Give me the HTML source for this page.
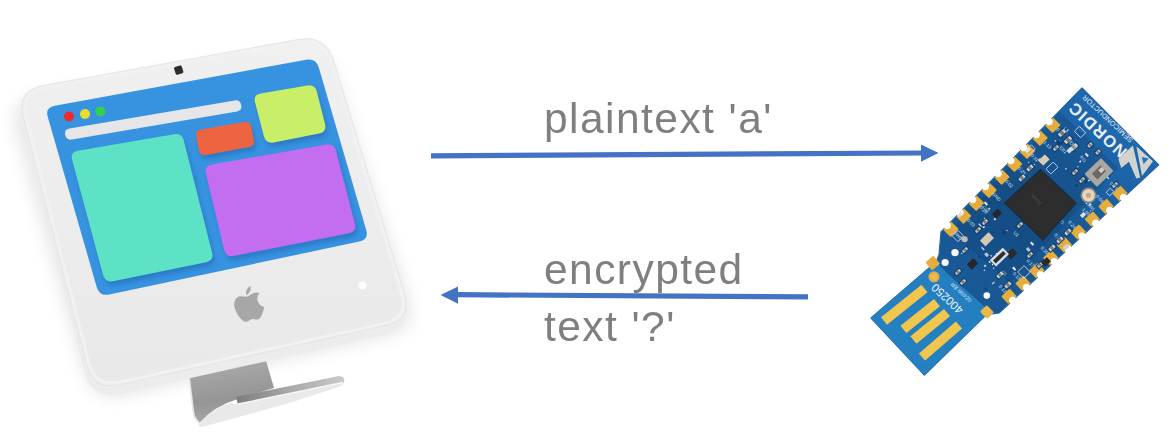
<!DOCTYPE html>
<html><head><meta charset="utf-8"><style>
html,body{margin:0;padding:0;background:#fff;}
#w{position:relative;width:1175px;height:447px;overflow:hidden;background:#fff;}
svg{position:absolute;left:0;top:0;}
.t{position:absolute;font-family:"Liberation Sans",sans-serif;font-size:42.5px;letter-spacing:1.45px;will-change:transform;color:#7f7f7f;white-space:nowrap;line-height:1;}
</style></head><body><div id="w">
<svg width="1175" height="447" viewBox="0 0 1175 447"><defs>
<filter id="blur8" x="-20%" y="-20%" width="140%" height="140%"><feGaussianBlur stdDeviation="8"/></filter>
<filter id="blur2" x="-20%" y="-20%" width="140%" height="140%"><feGaussianBlur stdDeviation="2"/></filter>
<linearGradient id="frameg" x1="0" y1="0" x2="0" y2="1"><stop offset="0" stop-color="#f0f0f0"/><stop offset="1" stop-color="#e9e9e9"/></linearGradient>
<linearGradient id="neckg" x1="0" y1="0" x2="0.2" y2="1"><stop offset="0" stop-color="#b0b0b0"/><stop offset="0.7" stop-color="#959595"/><stop offset="1" stop-color="#a8a8a8"/></linearGradient>
<linearGradient id="lipg" x1="0" y1="0" x2="1" y2="0"><stop offset="0" stop-color="#7d7d7d"/><stop offset="0.5" stop-color="#a9a9a9"/><stop offset="1" stop-color="#c9c9c9"/></linearGradient>
<linearGradient id="pcbg" x1="1" y1="0" x2="0" y2="1"><stop offset="0" stop-color="#2272bd"/><stop offset="0.45" stop-color="#17548f"/><stop offset="1" stop-color="#1b5f9f"/></linearGradient>
</defs>
<path d="M15.3,132.7 Q6.0,100.0 39.5,94.1 L292.5,49.9 Q326.0,44.0 336.6,76.3 L409.4,297.7 Q420.0,330.0 386.8,337.5 L125.2,396.5 Q92.0,404.0 82.7,371.3 Z" fill="#000" opacity="0.085" filter="url(#blur8)"/>
<path d="M188.5,372 L265,357 L274,388 L238,399 Q214,406 199.5,423 Q193,419 193,412 Z" fill="url(#neckg)"/>
<path d="M189,376 L193.5,412 Q194,418 199.5,423" fill="none" stroke="#e6e6e6" stroke-width="1.6"/>
<path d="M199.5,423 Q214,407 236,401 L341,379 Q346,382 341.5,386 L289.6,403 L202,427 Q197,427 199.5,423 Z" fill="#e9e9e9"/>
<path d="M236,397 L339,376 Q345.5,376.5 344,382.5 L238,404 Z" fill="url(#lipg)"/>
<path d="M238,404 L343,382.5" stroke="#f7f7f7" stroke-width="1.3"/>
<circle cx="234.5" cy="402.5" r="2" fill="#ffffff"/>
<path d="M21.9,128.1 Q14.5,99.0 44.0,93.7 L295.0,48.3 Q324.5,43.0 333.2,71.7 L402.8,300.3 Q411.5,329.0 382.2,335.5 L120.8,393.5 Q91.5,400.0 84.1,370.9 Z" fill="#ececec"/>
<path d="M22.9,117.1 Q16.0,90.0 43.6,85.0 L298.4,39.0 Q326.0,34.0 334.1,60.8 L404.9,293.2 Q413.0,320.0 385.7,326.1 L120.3,384.9 Q93.0,391.0 86.1,363.9 Z" fill="#e4e4e4"/>
<path d="M23.9,117.0 Q17.2,90.8 43.8,86.0 L298.7,39.9 Q325.3,35.1 333.2,61.0 L403.9,293.4 Q411.7,319.3 385.4,325.1 L120.1,384.0 Q93.7,389.8 87.0,363.7 Z" fill="#f1f1f1"/>
<path d="M27.5,116.8 Q21.6,93.6 45.2,89.3 L299.2,43.4 Q322.9,39.1 329.8,62.1 L400.3,293.7 Q407.3,316.7 383.9,321.9 L119.7,380.5 Q96.3,385.7 90.3,362.4 Z" fill="url(#frameg)"/>
<path d="M47.8,117.1 Q45.0,107.5 54.8,105.7 L306.2,59.8 Q316.0,58.0 318.8,67.6 L366.2,229.9 Q369.0,239.5 359.2,241.6 L109.3,294.4 Q99.5,296.5 96.7,286.9 Z" fill="#3792e0"/>
<path d="M65.2,134.9 Q64.0,129.5 69.4,128.6 L234.6,100.4 Q240.0,99.5 241.2,104.9 L241.3,105.1 Q242.5,110.5 237.1,111.4 L71.9,139.6 Q66.5,140.5 65.3,135.1 Z" fill="#e6e6e8"/>
<circle cx="69" cy="116.5" r="5" fill="#ef2a2c"/>
<circle cx="85" cy="114" r="5" fill="#e9dc2a"/>
<circle cx="100.5" cy="111.5" r="5" fill="#34d24c"/>
<path d="M74.1,163.7 Q72.0,156.0 79.9,154.7 L176.1,138.3 Q184.0,137.0 185.9,144.8 L214.1,256.8 Q216.0,264.6 208.2,266.2 L115.0,285.2 Q107.2,286.8 105.1,279.1 Z" fill="#1d5fa8" opacity="0.45" filter="url(#blur2)"/>
<path d="M72.1,159.7 Q70.0,152.0 77.9,150.7 L174.1,134.3 Q182.0,133.0 183.9,140.8 L212.1,252.8 Q214.0,260.6 206.2,262.2 L113.0,281.2 Q105.2,282.8 103.1,275.1 Z" fill="#5de2c6"/>
<path d="M198.2,140.4 Q197.0,134.5 202.9,133.5 L246.1,126.0 Q252.0,125.0 253.2,130.9 L255.8,144.1 Q257.0,150.0 251.1,151.1 L207.9,158.9 Q202.0,160.0 200.8,154.1 Z" fill="#1d5fa8" opacity="0.45" filter="url(#blur2)"/>
<path d="M196.2,136.4 Q195.0,130.5 200.9,129.5 L244.1,122.0 Q250.0,121.0 251.2,126.9 L253.8,140.1 Q255.0,146.0 249.1,147.1 L205.9,154.9 Q200.0,156.0 198.8,150.1 Z" fill="#ef6440"/>
<path d="M257.1,106.7 Q255.0,99.0 262.9,97.6 L309.1,89.4 Q317.0,88.0 318.9,95.8 L327.1,128.2 Q329.0,136.0 321.2,137.5 L275.8,146.5 Q268.0,148.0 265.9,140.3 Z" fill="#1d5fa8" opacity="0.45" filter="url(#blur2)"/>
<path d="M255.1,102.7 Q253.0,95.0 260.9,93.6 L307.1,85.4 Q315.0,84.0 316.9,91.8 L325.1,124.2 Q327.0,132.0 319.2,133.5 L273.8,142.5 Q266.0,144.0 263.9,136.3 Z" fill="#c9ef68"/>
<path d="M207.9,177.8 Q206.0,170.0 213.9,168.6 L328.1,148.4 Q336.0,147.0 338.0,154.7 L357.0,227.9 Q359.0,235.6 351.2,237.2 L235.8,260.0 Q228.0,261.6 226.1,253.8 Z" fill="#1d5fa8" opacity="0.45" filter="url(#blur2)"/>
<path d="M205.9,173.8 Q204.0,166.0 211.9,164.6 L326.1,144.4 Q334.0,143.0 336.0,150.7 L355.0,223.9 Q357.0,231.6 349.2,233.2 L233.8,256.0 Q226.0,257.6 224.1,249.8 Z" fill="#c36df0"/>
<rect x="174.7" y="66.1" width="8" height="8" rx="1.5" fill="#2e2e2e" transform="rotate(-18 178.7 70.1)"/>
<g transform="translate(234.5,287.5) rotate(-12 14 18) scale(0.29,0.30)" fill="#a7a7a7"><path d="M50,30 C40,30 35,24 24,24 C10,24 0,38 0,56 C0,82 18,112 30,112 C38,112 42,107 50,107 C58,107 62,112 70,112 C82,112 94,90 100,76 C88,70 82,60 82,50 C82,40 88,32 94,28 C86,20 76,24 70,24 C62,24 58,30 50,30 Z"/><path d="M48,24 C48,12 56,2 68,-2 C70,10 62,22 48,24 Z"/></g>
<circle cx="362.5" cy="285.5" r="4.2" fill="#fbfbfb"/>
<path d="M431,153.2 L922,150.4 L922,155.6 L431,158.4 Z" fill="#4472c4"/>
<path d="M921,144.6 L938.5,153 L921,161.7 Z" fill="#4472c4"/>
<path d="M808,294.3 L457,292.1 L457,297.3 L808,299.5 Z" fill="#4472c4"/>
<path d="M458,286.5 L440.5,294.9 L458,303.8 Z" fill="#4472c4"/>
<polygon points="1082,88 1158.7,164.8 999,313 986,315 924.4,375 871,318 936,262 939,255 941,232" fill="url(#pcbg)" stroke="#1d63a6" stroke-width="1.2" stroke-linejoin="round"/>
<polygon points="986,315 924.4,375 871,318 936,262 950,276 984,306" fill="#2a94d6" opacity="0.65"/>
<polygon points="1060,112 1118,168 1010,282 950,232" fill="#123f6e" opacity="0.3"/>
<rect x="1047.2" y="120.0" width="11.5" height="10.6" rx="1" fill="#e6ac3c" transform="rotate(134.4 1052.9 125.3)" />
<circle cx="1049.1" cy="121.6" r="3.6" fill="#ffffff"/>
<rect x="1034.4" y="133.0" width="11.5" height="10.6" rx="1" fill="#e6ac3c" transform="rotate(134.4 1040.2 138.3)" />
<circle cx="1036.4" cy="134.6" r="3.6" fill="#ffffff"/>
<rect x="1021.7" y="146.0" width="11.5" height="10.6" rx="1" fill="#e6ac3c" transform="rotate(134.4 1027.4 151.3)" />
<circle cx="1023.7" cy="147.6" r="3.6" fill="#ffffff"/>
<rect x="1009.0" y="159.0" width="11.5" height="10.6" rx="1" fill="#e6ac3c" transform="rotate(134.4 1014.7 164.3)" />
<circle cx="1010.9" cy="160.6" r="3.6" fill="#ffffff"/>
<rect x="996.2" y="172.0" width="11.5" height="10.6" rx="1" fill="#e6ac3c" transform="rotate(134.4 1002.0 177.3)" />
<circle cx="998.2" cy="173.6" r="3.6" fill="#ffffff"/>
<rect x="983.5" y="185.0" width="11.5" height="10.6" rx="1" fill="#e6ac3c" transform="rotate(134.4 989.2 190.3)" />
<circle cx="985.5" cy="186.6" r="3.6" fill="#ffffff"/>
<rect x="970.8" y="198.0" width="11.5" height="10.6" rx="1" fill="#e6ac3c" transform="rotate(134.4 976.5 203.3)" />
<circle cx="972.7" cy="199.6" r="3.6" fill="#ffffff"/>
<rect x="958.0" y="211.0" width="11.5" height="10.6" rx="1" fill="#e6ac3c" transform="rotate(134.4 963.8 216.3)" />
<circle cx="960.0" cy="212.6" r="3.6" fill="#ffffff"/>
<rect x="945.3" y="224.0" width="11.5" height="10.6" rx="1" fill="#e6ac3c" transform="rotate(134.4 951.0 229.3)" />
<circle cx="947.3" cy="225.6" r="3.6" fill="#ffffff"/>
<rect x="1114.2" y="188.2" width="11.5" height="10.6" rx="1" fill="#e6ac3c" transform="rotate(137.1 1120.0 193.5)" />
<circle cx="1123.5" cy="197.5" r="3.6" fill="#ffffff"/>
<rect x="1100.4" y="201.1" width="11.5" height="10.6" rx="1" fill="#e6ac3c" transform="rotate(137.1 1106.1 206.4)" />
<circle cx="1109.7" cy="210.3" r="3.6" fill="#ffffff"/>
<rect x="1086.5" y="213.9" width="11.5" height="10.6" rx="1" fill="#e6ac3c" transform="rotate(137.1 1092.3 219.2)" />
<circle cx="1095.8" cy="223.2" r="3.6" fill="#ffffff"/>
<rect x="1072.7" y="226.8" width="11.5" height="10.6" rx="1" fill="#e6ac3c" transform="rotate(137.1 1078.4 232.1)" />
<circle cx="1082.0" cy="236.0" r="3.6" fill="#ffffff"/>
<rect x="1058.8" y="239.6" width="11.5" height="10.6" rx="1" fill="#e6ac3c" transform="rotate(137.1 1064.5 244.9)" />
<circle cx="1068.1" cy="248.9" r="3.6" fill="#ffffff"/>
<rect x="1044.9" y="252.5" width="11.5" height="10.6" rx="1" fill="#e6ac3c" transform="rotate(137.1 1050.7 257.8)" />
<circle cx="1054.2" cy="261.7" r="3.6" fill="#ffffff"/>
<rect x="1031.1" y="265.3" width="11.5" height="10.6" rx="1" fill="#e6ac3c" transform="rotate(137.1 1036.8 270.6)" />
<circle cx="1040.4" cy="274.6" r="3.6" fill="#ffffff"/>
<rect x="1017.2" y="278.2" width="11.5" height="10.6" rx="1" fill="#e6ac3c" transform="rotate(137.1 1023.0 283.5)" />
<circle cx="1026.5" cy="287.4" r="3.6" fill="#ffffff"/>
<rect x="1003.4" y="291.1" width="11.5" height="10.6" rx="1" fill="#e6ac3c" transform="rotate(137.1 1009.1 296.4)" />
<circle cx="1012.7" cy="300.3" r="3.6" fill="#ffffff"/>
<rect x="927.5" y="257.8" width="10.5" height="10.5" rx="1" fill="#e6ac3c" transform="rotate(-40 932.8 263.0)" />
<rect x="982.2" y="306.8" width="9.5" height="10.5" rx="1.5" fill="#eab84a" transform="rotate(-44 987.0 312.0)" />
<line x1="884" y1="321" x2="924.5" y2="288.5" stroke="#f0c64e" stroke-width="9.5"/>
<line x1="903.4" y1="329.4" x2="937" y2="302.6" stroke="#f0c64e" stroke-width="9.5"/>
<line x1="913.4" y1="340" x2="947" y2="312.6" stroke="#f0c64e" stroke-width="9.5"/>
<line x1="922" y1="357" x2="959" y2="325" stroke="#f0c64e" stroke-width="9.5"/>
<circle cx="934" cy="276.8" r="5.6" fill="#d8ad4c"/><circle cx="934" cy="276.8" r="3.6" fill="#f0b850"/>
<circle cx="945.1" cy="262.5" r="3.6" fill="#f6f8fa"/>
<circle cx="955" cy="252.6" r="3.7" fill="#f6f8fa"/>
<circle cx="986.8" cy="295.6" r="3.3" fill="#f6f8fa"/>
<rect x="995.7" y="196.9" width="1.2" height="1.0" rx="0" fill="#0f3f70" transform="rotate(-44 996.3 197.4)" />
<rect x="983.6" y="269.9" width="1.5" height="1.0" rx="0" fill="#e8eef4" transform="rotate(-44 984.4 270.4)" />
<rect x="1027.9" y="161.8" width="1.5" height="1.0" rx="0" fill="#b7c7d6" transform="rotate(-44 1028.6 162.3)" />
<rect x="1033.8" y="164.0" width="1.2" height="1.0" rx="0" fill="#e8eef4" transform="rotate(-44 1034.4 164.5)" />
<rect x="1013.2" y="266.7" width="2.0" height="4.0" rx="0" fill="#e8eef4" transform="rotate(-44 1014.2 268.7)" />
<rect x="982.1" y="246.7" width="1.5" height="4.0" rx="0" fill="#c9d6e2" transform="rotate(-44 982.8 248.7)" />
<rect x="984.1" y="264.8" width="2.0" height="2.0" rx="0" fill="#c9d6e2" transform="rotate(-44 985.1 265.8)" />
<rect x="1084.4" y="180.5" width="3.0" height="2.0" rx="0" fill="#0f3f70" transform="rotate(-44 1085.9 181.5)" />
<rect x="1026.8" y="247.5" width="3.0" height="4.0" rx="0" fill="#b7c7d6" transform="rotate(-44 1028.3 249.5)" />
<rect x="978.1" y="255.9" width="2.0" height="1.5" rx="0" fill="#0f3f70" transform="rotate(-44 979.1 256.6)" />
<rect x="979.5" y="223.2" width="1.2" height="4.0" rx="0" fill="#dfe7ee" transform="rotate(-44 980.1 225.2)" />
<rect x="989.0" y="202.0" width="2.0" height="2.0" rx="0" fill="#0f3f70" transform="rotate(-44 990.0 203.0)" />
<rect x="992.9" y="267.7" width="1.5" height="1.0" rx="0" fill="#e8eef4" transform="rotate(-44 993.6 268.2)" />
<rect x="992.0" y="263.8" width="1.2" height="1.5" rx="0" fill="#e8eef4" transform="rotate(-44 992.6 264.6)" />
<rect x="992.6" y="231.2" width="2.0" height="2.0" rx="0" fill="#0f3f70" transform="rotate(-44 993.6 232.2)" />
<rect x="985.1" y="252.7" width="3.0" height="4.0" rx="0" fill="#b7c7d6" transform="rotate(-44 986.6 254.7)" />
<rect x="993.2" y="197.6" width="2.0" height="2.0" rx="0" fill="#0f3f70" transform="rotate(-44 994.2 198.6)" />
<rect x="1068.8" y="145.0" width="1.2" height="2.0" rx="0" fill="#0f3f70" transform="rotate(-44 1069.4 146.0)" />
<rect x="1106.6" y="175.4" width="1.5" height="4.0" rx="0" fill="#dfe7ee" transform="rotate(-44 1107.3 177.4)" />
<rect x="1060.1" y="142.1" width="3.0" height="2.0" rx="0" fill="#0f3f70" transform="rotate(-44 1061.6 143.1)" />
<rect x="1085.8" y="152.9" width="2.0" height="4.0" rx="0" fill="#dfe7ee" transform="rotate(-44 1086.8 154.9)" />
<rect x="1088.6" y="204.0" width="3.0" height="1.5" rx="0" fill="#e8eef4" transform="rotate(-44 1090.1 204.7)" />
<rect x="1075.0" y="142.2" width="3.0" height="4.0" rx="0" fill="#0f3f70" transform="rotate(-44 1076.5 144.2)" />
<rect x="1054.8" y="140.1" width="1.2" height="1.5" rx="0" fill="#dfe7ee" transform="rotate(-44 1055.4 140.9)" />
<rect x="1074.9" y="184.4" width="3.0" height="2.0" rx="0" fill="#0f3f70" transform="rotate(-44 1076.4 185.4)" />
<rect x="995.8" y="253.1" width="1.2" height="1.0" rx="0" fill="#e8eef4" transform="rotate(-44 996.4 253.6)" />
<rect x="993.9" y="218.2" width="2.0" height="2.0" rx="0" fill="#dfe7ee" transform="rotate(-44 994.9 219.2)" />
<rect x="991.8" y="282.2" width="3.0" height="1.5" rx="0" fill="#b7c7d6" transform="rotate(-44 993.3 283.0)" />
<rect x="968.7" y="264.2" width="1.2" height="1.5" rx="0" fill="#dfe7ee" transform="rotate(-44 969.3 264.9)" />
<rect x="993.7" y="244.7" width="1.2" height="1.0" rx="0" fill="#0f3f70" transform="rotate(-44 994.3 245.2)" />
<rect x="988.8" y="260.9" width="1.5" height="2.0" rx="0" fill="#dfe7ee" transform="rotate(-44 989.6 261.9)" />
<rect x="1038.8" y="158.4" width="3.0" height="4.0" rx="0" fill="#c9d6e2" transform="rotate(-44 1040.3 160.4)" />
<rect x="1064.9" y="168.3" width="2.0" height="1.0" rx="0" fill="#dfe7ee" transform="rotate(-44 1065.9 168.8)" />
<rect x="1088.1" y="179.6" width="2.0" height="1.5" rx="0" fill="#dfe7ee" transform="rotate(-44 1089.1 180.4)" />
<rect x="1031.1" y="241.7" width="2.0" height="4.0" rx="0" fill="#e8eef4" transform="rotate(-44 1032.1 243.7)" />
<rect x="1069.0" y="139.8" width="3.0" height="2.0" rx="0" fill="#dfe7ee" transform="rotate(-44 1070.5 140.8)" />
<rect x="1066.1" y="130.6" width="2.0" height="1.0" rx="0" fill="#e8eef4" transform="rotate(-44 1067.1 131.1)" />
<rect x="1085.7" y="202.9" width="1.5" height="1.0" rx="0" fill="#e8eef4" transform="rotate(-44 1086.5 203.4)" />
<rect x="984.9" y="201.6" width="2.0" height="4.0" rx="0" fill="#e8eef4" transform="rotate(-44 985.9 203.6)" />
<rect x="990.5" y="255.0" width="1.2" height="1.5" rx="0" fill="#dfe7ee" transform="rotate(-44 991.1 255.8)" />
<rect x="988.3" y="208.0" width="2.0" height="1.5" rx="0" fill="#c9d6e2" transform="rotate(-44 989.3 208.8)" />
<rect x="986.4" y="233.7" width="2.0" height="1.0" rx="0" fill="#e8eef4" transform="rotate(-44 987.4 234.2)" />
<rect x="985.1" y="287.1" width="1.5" height="4.0" rx="0" fill="#0f3f70" transform="rotate(-44 985.9 289.1)" />
<rect x="1002.1" y="230.4" width="3.0" height="4.0" rx="0" fill="#0f3f70" transform="rotate(-44 1003.6 232.4)" />
<rect x="984.8" y="217.4" width="1.5" height="4.0" rx="0" fill="#dfe7ee" transform="rotate(-44 985.6 219.4)" />
<rect x="1089.8" y="210.4" width="1.5" height="1.0" rx="0" fill="#b7c7d6" transform="rotate(-44 1090.5 210.9)" />
<rect x="1002.0" y="286.9" width="2.0" height="1.5" rx="0" fill="#0f3f70" transform="rotate(-44 1003.0 287.7)" />
<rect x="982.7" y="225.9" width="2.0" height="2.0" rx="0" fill="#e8eef4" transform="rotate(-44 983.7 226.9)" />
<rect x="961.3" y="252.6" width="1.2" height="1.5" rx="0" fill="#dfe7ee" transform="rotate(-44 961.9 253.4)" />
<rect x="1082.5" y="192.3" width="3.0" height="2.0" rx="0" fill="#0f3f70" transform="rotate(-44 1084.0 193.3)" />
<rect x="1077.2" y="166.3" width="1.5" height="1.0" rx="0" fill="#c9d6e2" transform="rotate(-44 1077.9 166.8)" />
<rect x="1075.2" y="169.8" width="1.2" height="1.5" rx="0" fill="#0f3f70" transform="rotate(-44 1075.8 170.5)" />
<rect x="1006.4" y="230.0" width="1.2" height="1.0" rx="0" fill="#e8eef4" transform="rotate(-44 1007.0 230.5)" />
<rect x="1079.2" y="160.8" width="2.0" height="1.5" rx="0" fill="#e8eef4" transform="rotate(-44 1080.2 161.5)" />
<rect x="1057.0" y="141.0" width="3.0" height="4.0" rx="0" fill="#0f3f70" transform="rotate(-44 1058.5 143.0)" />
<text x="0" y="0" font-family="Liberation Sans" font-size="4.6" fill="#d8e2ec" transform="translate(1059.8,132.1) rotate(46)" text-anchor="middle" dominant-baseline="middle">0.15</text>
<text x="0" y="0" font-family="Liberation Sans" font-size="4.6" fill="#d8e2ec" transform="translate(1047.1,145.1) rotate(46)" text-anchor="middle" dominant-baseline="middle">1.13</text>
<text x="0" y="0" font-family="Liberation Sans" font-size="4.6" fill="#d8e2ec" transform="translate(1034.4,158.1) rotate(46)" text-anchor="middle" dominant-baseline="middle">0.31</text>
<text x="0" y="0" font-family="Liberation Sans" font-size="4.6" fill="#d8e2ec" transform="translate(1021.6,171.1) rotate(46)" text-anchor="middle" dominant-baseline="middle">0.29</text>
<text x="0" y="0" font-family="Liberation Sans" font-size="4.6" fill="#d8e2ec" transform="translate(1008.9,184.1) rotate(46)" text-anchor="middle" dominant-baseline="middle">0.02</text>
<text x="0" y="0" font-family="Liberation Sans" font-size="4.6" fill="#d8e2ec" transform="translate(996.2,197.1) rotate(46)" text-anchor="middle" dominant-baseline="middle">GND</text>
<text x="0" y="0" font-family="Liberation Sans" font-size="4.6" fill="#d8e2ec" transform="translate(983.4,210.1) rotate(46)" text-anchor="middle" dominant-baseline="middle">0.28</text>
<text x="0" y="0" font-family="Liberation Sans" font-size="4.6" fill="#d8e2ec" transform="translate(970.7,223.1) rotate(46)" text-anchor="middle" dominant-baseline="middle">0.03</text>
<text x="0" y="0" font-family="Liberation Sans" font-size="4.6" fill="#d8e2ec" transform="translate(958.0,236.1) rotate(46)" text-anchor="middle" dominant-baseline="middle">SWD</text>
<text x="0" y="0" font-family="Liberation Sans" font-size="4.6" fill="#d8e2ec" transform="translate(1113.5,186.3) rotate(46)" text-anchor="middle" dominant-baseline="middle">0.10</text>
<text x="0" y="0" font-family="Liberation Sans" font-size="4.6" fill="#d8e2ec" transform="translate(1099.6,199.2) rotate(46)" text-anchor="middle" dominant-baseline="middle">0.09</text>
<text x="0" y="0" font-family="Liberation Sans" font-size="4.6" fill="#d8e2ec" transform="translate(1085.8,212.0) rotate(46)" text-anchor="middle" dominant-baseline="middle">1.00</text>
<text x="0" y="0" font-family="Liberation Sans" font-size="4.6" fill="#d8e2ec" transform="translate(1071.9,224.9) rotate(46)" text-anchor="middle" dominant-baseline="middle">0.24</text>
<text x="0" y="0" font-family="Liberation Sans" font-size="4.6" fill="#d8e2ec" transform="translate(1058.1,237.7) rotate(46)" text-anchor="middle" dominant-baseline="middle">0.22</text>
<text x="0" y="0" font-family="Liberation Sans" font-size="4.6" fill="#d8e2ec" transform="translate(1044.2,250.6) rotate(46)" text-anchor="middle" dominant-baseline="middle">0.20</text>
<text x="0" y="0" font-family="Liberation Sans" font-size="4.6" fill="#d8e2ec" transform="translate(1030.3,263.4) rotate(46)" text-anchor="middle" dominant-baseline="middle">0.17</text>
<text x="0" y="0" font-family="Liberation Sans" font-size="4.6" fill="#d8e2ec" transform="translate(1016.5,276.3) rotate(46)" text-anchor="middle" dominant-baseline="middle">0.13</text>
<text x="0" y="0" font-family="Liberation Sans" font-size="4.6" fill="#d8e2ec" transform="translate(1002.6,289.2) rotate(46)" text-anchor="middle" dominant-baseline="middle">0.12</text>
<rect x="1057.0" y="130.0" width="10.0" height="6.0" rx="0.5" fill="#0f3f70" transform="rotate(-44 1062.0 133.0)" />
<rect x="1058.0" y="131.0" width="8.0" height="4.0" rx="0.5" fill="#cfd3d6" transform="rotate(-44 1062.0 133.0)" />
<rect x="1060.2" y="131.0" width="3.6" height="4.0" rx="0" fill="#7d7a72" transform="rotate(-44 1062.0 133.0)" />
<rect x="1063.0" y="137.0" width="10.0" height="6.0" rx="0.5" fill="#0f3f70" transform="rotate(-44 1068.0 140.0)" />
<rect x="1064.0" y="138.0" width="8.0" height="4.0" rx="0.5" fill="#cfd3d6" transform="rotate(-44 1068.0 140.0)" />
<rect x="1066.2" y="138.0" width="3.6" height="4.0" rx="0" fill="#7d7a72" transform="rotate(-44 1068.0 140.0)" />
<rect x="1069.0" y="144.0" width="10.0" height="6.0" rx="0.5" fill="#0f3f70" transform="rotate(-44 1074.0 147.0)" />
<rect x="1070.0" y="145.0" width="8.0" height="4.0" rx="0.5" fill="#cfd3d6" transform="rotate(-44 1074.0 147.0)" />
<rect x="1072.2" y="145.0" width="3.6" height="4.0" rx="0" fill="#7d7a72" transform="rotate(-44 1074.0 147.0)" />
<rect x="1052.0" y="145.5" width="8.0" height="5.0" rx="0.5" fill="#0f3f70" transform="rotate(-44 1056.0 148.0)" />
<rect x="1053.0" y="146.5" width="6.0" height="3.0" rx="0.5" fill="#cfd3d6" transform="rotate(-44 1056.0 148.0)" />
<rect x="1054.7" y="146.5" width="2.7" height="3.0" rx="0" fill="#7d7a72" transform="rotate(-44 1056.0 148.0)" />
<rect x="1025.5" y="165.2" width="9.0" height="5.5" rx="0.5" fill="#0f3f70" transform="rotate(-44 1030.0 168.0)" />
<rect x="1026.5" y="166.2" width="7.0" height="3.5" rx="0.5" fill="#cfd3d6" transform="rotate(-44 1030.0 168.0)" />
<rect x="1028.4" y="166.2" width="3.1" height="3.5" rx="0" fill="#7d7a72" transform="rotate(-44 1030.0 168.0)" />
<rect x="1017.5" y="175.2" width="9.0" height="5.5" rx="0.5" fill="#0f3f70" transform="rotate(-44 1022.0 178.0)" />
<rect x="1018.5" y="176.2" width="7.0" height="3.5" rx="0.5" fill="#cfd3d6" transform="rotate(-44 1022.0 178.0)" />
<rect x="1020.4" y="176.2" width="3.1" height="3.5" rx="0" fill="#7d7a72" transform="rotate(-44 1022.0 178.0)" />
<rect x="1071.0" y="169.5" width="8.0" height="5.0" rx="0.5" fill="#0f3f70" transform="rotate(-44 1075.0 172.0)" />
<rect x="1072.0" y="170.5" width="6.0" height="3.0" rx="0.5" fill="#cfd3d6" transform="rotate(-44 1075.0 172.0)" />
<rect x="1073.7" y="170.5" width="2.7" height="3.0" rx="0" fill="#7d7a72" transform="rotate(-44 1075.0 172.0)" />
<rect x="1078.0" y="177.5" width="8.0" height="5.0" rx="0.5" fill="#0f3f70" transform="rotate(-44 1082.0 180.0)" />
<rect x="1079.0" y="178.5" width="6.0" height="3.0" rx="0.5" fill="#cfd3d6" transform="rotate(-44 1082.0 180.0)" />
<rect x="1080.7" y="178.5" width="2.7" height="3.0" rx="0" fill="#7d7a72" transform="rotate(-44 1082.0 180.0)" />
<rect x="1055.5" y="237.2" width="9.0" height="5.5" rx="0.5" fill="#0f3f70" transform="rotate(-44 1060.0 240.0)" />
<rect x="1056.5" y="238.2" width="7.0" height="3.5" rx="0.5" fill="#cfd3d6" transform="rotate(-44 1060.0 240.0)" />
<rect x="1058.4" y="238.2" width="3.1" height="3.5" rx="0" fill="#7d7a72" transform="rotate(-44 1060.0 240.0)" />
<rect x="1047.5" y="245.2" width="9.0" height="5.5" rx="0.5" fill="#0f3f70" transform="rotate(-44 1052.0 248.0)" />
<rect x="1048.5" y="246.2" width="7.0" height="3.5" rx="0.5" fill="#cfd3d6" transform="rotate(-44 1052.0 248.0)" />
<rect x="1050.4" y="246.2" width="3.1" height="3.5" rx="0" fill="#7d7a72" transform="rotate(-44 1052.0 248.0)" />
<rect x="1063.5" y="229.2" width="9.0" height="5.5" rx="0.5" fill="#0f3f70" transform="rotate(-44 1068.0 232.0)" />
<rect x="1064.5" y="230.2" width="7.0" height="3.5" rx="0.5" fill="#cfd3d6" transform="rotate(-44 1068.0 232.0)" />
<rect x="1066.4" y="230.2" width="3.1" height="3.5" rx="0" fill="#7d7a72" transform="rotate(-44 1068.0 232.0)" />
<rect x="1026.0" y="252.5" width="8.0" height="5.0" rx="0.5" fill="#0f3f70" transform="rotate(-44 1030.0 255.0)" />
<rect x="1027.0" y="253.5" width="6.0" height="3.0" rx="0.5" fill="#cfd3d6" transform="rotate(-44 1030.0 255.0)" />
<rect x="1028.7" y="253.5" width="2.7" height="3.0" rx="0" fill="#7d7a72" transform="rotate(-44 1030.0 255.0)" />
<rect x="1036.0" y="262.5" width="8.0" height="5.0" rx="0.5" fill="#0f3f70" transform="rotate(-44 1040.0 265.0)" />
<rect x="1037.0" y="263.5" width="6.0" height="3.0" rx="0.5" fill="#cfd3d6" transform="rotate(-44 1040.0 265.0)" />
<rect x="1038.7" y="263.5" width="2.7" height="3.0" rx="0" fill="#7d7a72" transform="rotate(-44 1040.0 265.0)" />
<rect x="981.0" y="219.5" width="8.0" height="5.0" rx="0.5" fill="#0f3f70" transform="rotate(-44 985.0 222.0)" />
<rect x="982.0" y="220.5" width="6.0" height="3.0" rx="0.5" fill="#cfd3d6" transform="rotate(-44 985.0 222.0)" />
<rect x="983.6" y="220.5" width="2.7" height="3.0" rx="0" fill="#7d7a72" transform="rotate(-44 985.0 222.0)" />
<rect x="974.0" y="227.5" width="8.0" height="5.0" rx="0.5" fill="#0f3f70" transform="rotate(-44 978.0 230.0)" />
<rect x="975.0" y="228.5" width="6.0" height="3.0" rx="0.5" fill="#cfd3d6" transform="rotate(-44 978.0 230.0)" />
<rect x="976.6" y="228.5" width="2.7" height="3.0" rx="0" fill="#7d7a72" transform="rotate(-44 978.0 230.0)" />
<rect x="961.0" y="247.5" width="8.0" height="5.0" rx="0.5" fill="#0f3f70" transform="rotate(-44 965.0 250.0)" />
<rect x="962.0" y="248.5" width="6.0" height="3.0" rx="0.5" fill="#cfd3d6" transform="rotate(-44 965.0 250.0)" />
<rect x="963.6" y="248.5" width="2.7" height="3.0" rx="0" fill="#7d7a72" transform="rotate(-44 965.0 250.0)" />
<rect x="995.5" y="272.2" width="9.0" height="5.5" rx="0.5" fill="#0f3f70" transform="rotate(-44 1000.0 275.0)" />
<rect x="996.5" y="273.2" width="7.0" height="3.5" rx="0.5" fill="#cfd3d6" transform="rotate(-44 1000.0 275.0)" />
<rect x="998.4" y="273.2" width="3.1" height="3.5" rx="0" fill="#7d7a72" transform="rotate(-44 1000.0 275.0)" />
<rect x="1003.5" y="282.2" width="9.0" height="5.5" rx="0.5" fill="#0f3f70" transform="rotate(-44 1008.0 285.0)" />
<rect x="1004.5" y="283.2" width="7.0" height="3.5" rx="0.5" fill="#cfd3d6" transform="rotate(-44 1008.0 285.0)" />
<rect x="1006.4" y="283.2" width="3.1" height="3.5" rx="0" fill="#7d7a72" transform="rotate(-44 1008.0 285.0)" />
<rect x="954.0" y="269.5" width="8.0" height="5.0" rx="0.5" fill="#0f3f70" transform="rotate(-44 958.0 272.0)" />
<rect x="955.0" y="270.5" width="6.0" height="3.0" rx="0.5" fill="#cfd3d6" transform="rotate(-44 958.0 272.0)" />
<rect x="956.6" y="270.5" width="2.7" height="3.0" rx="0" fill="#7d7a72" transform="rotate(-44 958.0 272.0)" />
<rect x="959.0" y="279.5" width="8.0" height="5.0" rx="0.5" fill="#0f3f70" transform="rotate(-44 963.0 282.0)" />
<rect x="960.0" y="280.5" width="6.0" height="3.0" rx="0.5" fill="#cfd3d6" transform="rotate(-44 963.0 282.0)" />
<rect x="961.6" y="280.5" width="2.7" height="3.0" rx="0" fill="#7d7a72" transform="rotate(-44 963.0 282.0)" />
<rect x="1086.5" y="142.5" width="7.0" height="5.0" rx="0.5" fill="#0f3f70" transform="rotate(-44 1090.0 145.0)" />
<rect x="1087.5" y="143.5" width="5.0" height="3.0" rx="0.5" fill="#cfd3d6" transform="rotate(-44 1090.0 145.0)" />
<rect x="1088.9" y="143.5" width="2.2" height="3.0" rx="0" fill="#7d7a72" transform="rotate(-44 1090.0 145.0)" />
<rect x="1094.5" y="149.5" width="7.0" height="5.0" rx="0.5" fill="#0f3f70" transform="rotate(-44 1098.0 152.0)" />
<rect x="1095.5" y="150.5" width="5.0" height="3.0" rx="0.5" fill="#cfd3d6" transform="rotate(-44 1098.0 152.0)" />
<rect x="1096.9" y="150.5" width="2.2" height="3.0" rx="0" fill="#7d7a72" transform="rotate(-44 1098.0 152.0)" />
<rect x="1111.0" y="182.5" width="8.0" height="5.0" rx="0.5" fill="#0f3f70" transform="rotate(-44 1115.0 185.0)" />
<rect x="1112.0" y="183.5" width="6.0" height="3.0" rx="0.5" fill="#cfd3d6" transform="rotate(-44 1115.0 185.0)" />
<rect x="1113.7" y="183.5" width="2.7" height="3.0" rx="0" fill="#7d7a72" transform="rotate(-44 1115.0 185.0)" />
<rect x="1016.0" y="222.5" width="8.0" height="5.0" rx="0.5" fill="#0f3f70" transform="rotate(-44 1020.0 225.0)" />
<rect x="1017.0" y="223.5" width="6.0" height="3.0" rx="0.5" fill="#cfd3d6" transform="rotate(-44 1020.0 225.0)" />
<rect x="1018.6" y="223.5" width="2.7" height="3.0" rx="0" fill="#7d7a72" transform="rotate(-44 1020.0 225.0)" />
<circle cx="964.7" cy="239.3" r="3" fill="#c9b9b0"/>
<text x="0" y="0" font-family="Liberation Sans" font-size="5" fill="#d9e2ea" transform="translate(1065,131) rotate(46)" text-anchor="middle">L1</text>
<text x="0" y="0" font-family="Liberation Sans" font-size="4.6" fill="#d9e2ea" transform="translate(1072,146) rotate(46)" text-anchor="middle">C80</text>
<text x="0" y="0" font-family="Liberation Sans" font-size="4.6" fill="#d9e2ea" transform="translate(1062,151) rotate(46)" text-anchor="middle">C81</text>
<text x="0" y="0" font-family="Liberation Sans" font-size="4.2" fill="#d9e2ea" transform="translate(1082,160) rotate(46)" text-anchor="middle">R11</text>
<text x="0" y="0" font-family="Liberation Sans" font-size="4.2" fill="#d9e2ea" transform="translate(1090,208) rotate(46)" text-anchor="middle">SW1</text>
<text x="0" y="0" font-family="Liberation Sans" font-size="4.2" fill="#d9e2ea" transform="translate(1060,222) rotate(46)" text-anchor="middle">C71</text>
<text x="0" y="0" font-family="Liberation Sans" font-size="4.6" fill="#d9e2ea" transform="translate(1015,235) rotate(46)" text-anchor="middle">U1</text>
<text x="0" y="0" font-family="Liberation Sans" font-size="4.2" fill="#d9e2ea" transform="translate(985,210) rotate(46)" text-anchor="middle">C12</text>
<text x="0" y="0" font-family="Liberation Sans" font-size="4.2" fill="#d9e2ea" transform="translate(1003,274) rotate(46)" text-anchor="middle">Q1</text>
<rect x="1047.0" y="164.5" width="10.0" height="7.0" rx="0.5" fill="none" transform="rotate(-44 1052.0 168.0)" stroke="#d9e2ea" stroke-width="0.8"/>
<rect x="1076.5" y="127.5" width="7.0" height="9.0" rx="0.5" fill="none" transform="rotate(-44 1080.0 132.0)" stroke="#d9e2ea" stroke-width="0.8"/>
<rect x="1107.0" y="189.5" width="6.0" height="5.0" rx="0.5" fill="none" transform="rotate(-44 1110.0 192.0)" stroke="#d9e2ea" stroke-width="0.8"/>
<rect x="1025.5" y="147.0" width="9.0" height="6.0" rx="0.5" fill="none" transform="rotate(-44 1030.0 150.0)" stroke="#d9e2ea" stroke-width="0.8"/>
<rect x="954.0" y="232.0" width="8.0" height="8.0" rx="0.5" fill="none" transform="rotate(-44 958.0 236.0)" stroke="#d9e2ea" stroke-width="0.8"/>
<rect x="1019.5" y="267.5" width="9.0" height="9.0" rx="0.5" fill="none" transform="rotate(-44 1024.0 272.0)" stroke="#d9e2ea" stroke-width="0.8"/>
<polygon points="1040.4,169.7 1076,203 1043,239.8 1004.8,203" fill="#2d2d2d" stroke="#1d2d3d" stroke-width="1.5"/>
<text x="0" y="0" font-family="Liberation Sans" font-size="4" fill="#55575a" transform="translate(1031,196) rotate(46)">NRF52</text>
<circle cx="1088.5" cy="195.3" r="8" fill="#8a8478"/><circle cx="1088.5" cy="195.3" r="6.3" fill="#e3d6c2"/><circle cx="1088.5" cy="195.3" r="2.6" fill="#c9a68a"/>
<rect x="1087.5" y="163.4" width="23.0" height="18.0" rx="1" fill="#a9a7a2" transform="rotate(-44 1099.0 172.4)" />
<rect x="1093.0" y="168.4" width="12.0" height="8.0" rx="0" fill="#6b6963" transform="rotate(-44 1099.0 172.4)" />
<rect x="1099.0" y="168.0" width="5.0" height="4.0" rx="0" fill="#cfcdc8" transform="rotate(-44 1101.5 170.0)" />
<rect x="1039.5" y="156.5" width="9.0" height="7.0" rx="0.5" fill="#d9cdb5" transform="rotate(-44 1044.0 160.0)" />
<rect x="981.0" y="235.3" width="12.0" height="8.0" rx="0.5" fill="#d3c8b4" transform="rotate(-44 987.0 239.3)" />
<rect x="993.0" y="210.6" width="8.0" height="6.0" rx="0.5" fill="#262626" transform="rotate(-44 997.0 213.6)" />
<rect x="1007.2" y="250.3" width="9.0" height="7.0" rx="0.5" fill="#2a2a2a" transform="rotate(-44 1011.7 253.8)" />
<rect x="968.0" y="260.4" width="9.0" height="7.0" rx="0.5" fill="#262626" transform="rotate(-44 972.5 263.9)" />
<rect x="990.4" y="252.7" width="18.0" height="9.0" rx="0.5" fill="#d8dde2" transform="rotate(-44 999.4 257.2)" />
<rect x="1042.0" y="259.0" width="8.0" height="6.0" rx="0.5" fill="#2a2a2a" transform="rotate(-44 1046.0 262.0)" />
<rect x="1063.0" y="245.0" width="6.0" height="4.0" rx="0.5" fill="#d5d0c6" transform="rotate(-44 1066.0 247.0)" />
<rect x="957.5" y="213.2" width="5.0" height="3.5" rx="0.5" fill="#dedede" transform="rotate(-44 960.0 215.0)" />
<rect x="1025.5" y="148.5" width="5.0" height="3.0" rx="0.5" fill="#e4e4e4" transform="rotate(-44 1028.0 150.0)" />
<rect x="1067.0" y="148.0" width="6.0" height="4.0" rx="0.5" fill="#d9dde2" transform="rotate(-44 1070.0 150.0)" />
<rect x="1080.5" y="213.0" width="5.0" height="4.0" rx="0.5" fill="#dcdcdc" transform="rotate(-44 1083.0 215.0)" />
<rect x="992.4" y="255.2" width="14.0" height="4.0" rx="0" fill="#2e2e2e" transform="rotate(-44 999.4 257.2)" />
<text x="0" y="0" font-family="Liberation Sans" font-weight="bold" font-size="16.5" fill="#e9eef4" transform="translate(1128,150.5) rotate(-137)" letter-spacing="1.4">NORDIC</text>
<text x="0" y="0" font-family="Liberation Sans" font-size="7.2" fill="#e6edf4" transform="translate(1133.5,139.5) rotate(-137)" letter-spacing="0.15">SEMICONDUCTOR</text>
<polygon points="1118.4,159 1132.9,145.6 1140.2,177.5 1136.3,178.6 1129,161.8 1121.2,168" fill="#d3d3ce"/>
<polygon points="1136.5,146.5 1153,161.3 1142,176" fill="#d3d3ce"/>
<polygon points="1141.8,157 1148.6,158.5 1143.6,164.1" fill="#2372b8"/>
<text x="0" y="0" font-family="Liberation Sans" font-size="11.5" fill="#eef2f6" transform="translate(964,309) rotate(-137)">400250</text>
<text x="0" y="0" font-family="Liberation Sans" font-size="5.5" fill="#dfe8f0" transform="translate(972,300) rotate(-137)">0Z4SR.ER</text>
</svg>
<div class="t" style="left:544px;top:98px">plaintext 'a'</div>
<div class="t" style="left:544px;top:249px">encrypted</div>
<div class="t" style="left:544px;top:305.5px">text '?'</div>
</div></body></html>
